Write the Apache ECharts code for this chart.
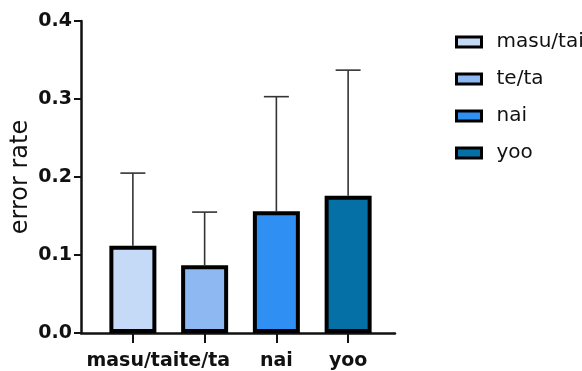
<!DOCTYPE html>
<html>
<head>
<meta charset="utf-8">
<script src="https://cdn.jsdelivr.net/npm/echarts@6/dist/echarts.min.js"></script>
<style>
  html, body { margin: 0; padding: 0; background: #fff; }
  #chart { width: 582px; height: 371px; }
</style>
</head>
<body>
<div id="chart"></div>
<script>
// Mean error rate per verb form, with the upper standard-deviation whisker
const categories = ['masu/tai', 'te/ta', 'nai', 'yoo'];
const meanRate = [0.112, 0.087, 0.156, 0.176];
const sdRate = [0.093, 0.068, 0.147, 0.161];
const barColors = ['#c5daf6', '#8db8f2', '#2f8ff3', '#0570a6'];
const yTicks = [0, 0.1, 0.2, 0.3, 0.4];

const AXIS_TOP = 21, AXIS_BOTTOM = 38;

const barSeries = categories.map((name, i) => ({
  name: name,
  type: 'bar',
  xAxisIndex: 1,
  yAxisIndex: 1,
  barWidth: 47,
  barGap: '-100%',
  data: categories.map((c, j) => (j === i ? meanRate[j] : '-')),
  itemStyle: { color: barColors[i], borderColor: '#000', borderWidth: 4 },
  z: 3
}));

const errorSeries = {
  type: 'custom',
  xAxisIndex: 1,
  yAxisIndex: 1,
  z: 2,
  silent: true,
  data: categories.map((c, i) => [i, meanRate[i], meanRate[i] + sdRate[i]]),
  renderItem: function (params, api) {
    const base = api.coord([api.value(0), api.value(1)]);
    const top = api.coord([api.value(0), api.value(2)]);
    const half = 12.5;
    const style = { stroke: '#333', lineWidth: 1.6 };
    return {
      type: 'group',
      children: [
        { type: 'line', shape: { x1: base[0], y1: base[1], x2: top[0], y2: top[1] }, style: style },
        { type: 'line', shape: { x1: top[0] - half, y1: top[1], x2: top[0] + half, y2: top[1] }, style: style }
      ]
    };
  }
};

const chart = echarts.init(document.getElementById('chart'));
chart.setOption({
  animation: false,
  backgroundColor: '#fff',
  textStyle: { fontFamily: 'DejaVu Sans' },
  grid: [
    { left: 81, right: 187, top: AXIS_TOP, bottom: AXIS_BOTTOM, outerBoundsMode: 'none', containLabel: false },
    { left: 97, right: 198, top: AXIS_TOP, bottom: AXIS_BOTTOM, outerBoundsMode: 'none', containLabel: false }
  ],
  legend: {
    orient: 'vertical',
    left: 455,
    top: 32,
    padding: 0,
    itemWidth: 25,
    itemHeight: 10,
    itemGap: 17,
    icon: 'rect',
    data: categories,
    itemStyle: { borderColor: '#000', borderWidth: 3 },
    textStyle: { fontFamily: 'DejaVu Sans', fontSize: 20, color: '#111', padding: [0, 0, 0, 10] }
  },
  xAxis: [
    {
      gridIndex: 0,
      type: 'value',
      min: 0,
      max: 1,
      axisLine: { show: true, lineStyle: { color: '#111', width: 2.5 } },
      axisTick: { show: false },
      axisLabel: { show: false },
      splitLine: { show: false }
    },
    {
      gridIndex: 1,
      type: 'category',
      data: categories,
      boundaryGap: true,
      axisLine: { show: false },
      axisTick: { show: true, alignWithLabel: true, length: 10, lineStyle: { color: '#111', width: 2 } },
      axisLabel: {
        interval: 0,
        margin: 19,
        fontFamily: 'DejaVu Sans',
        fontWeight: 'bold',
        fontSize: 19,
        color: '#111'
      }
    }
  ],
  yAxis: [
    {
      gridIndex: 0,
      type: 'value',
      min: yTicks[0],
      max: yTicks[yTicks.length - 1],
      interval: 0.1,
      name: 'error rate',
      nameLocation: 'middle',
      nameGap: 48,
      nameMoveOverlap: false,
      nameTextStyle: { fontFamily: 'DejaVu Sans', fontSize: 24, color: '#111' },
      axisLine: { show: true, lineStyle: { color: '#111', width: 2.5 } },
      axisTick: { show: true, length: 7, lineStyle: { color: '#111', width: 2 } },
      axisLabel: {
        margin: 9,
        fontFamily: 'DejaVu Sans',
        fontWeight: 'bold',
        fontSize: 19,
        color: '#111',
        formatter: v => v.toFixed(1)
      },
      splitLine: { show: false }
    },
    {
      gridIndex: 1,
      type: 'value',
      min: yTicks[0],
      max: yTicks[yTicks.length - 1],
      interval: 0.1,
      show: false
    }
  ],
  series: barSeries.concat([errorSeries])
});
</script>
</body>
</html>
